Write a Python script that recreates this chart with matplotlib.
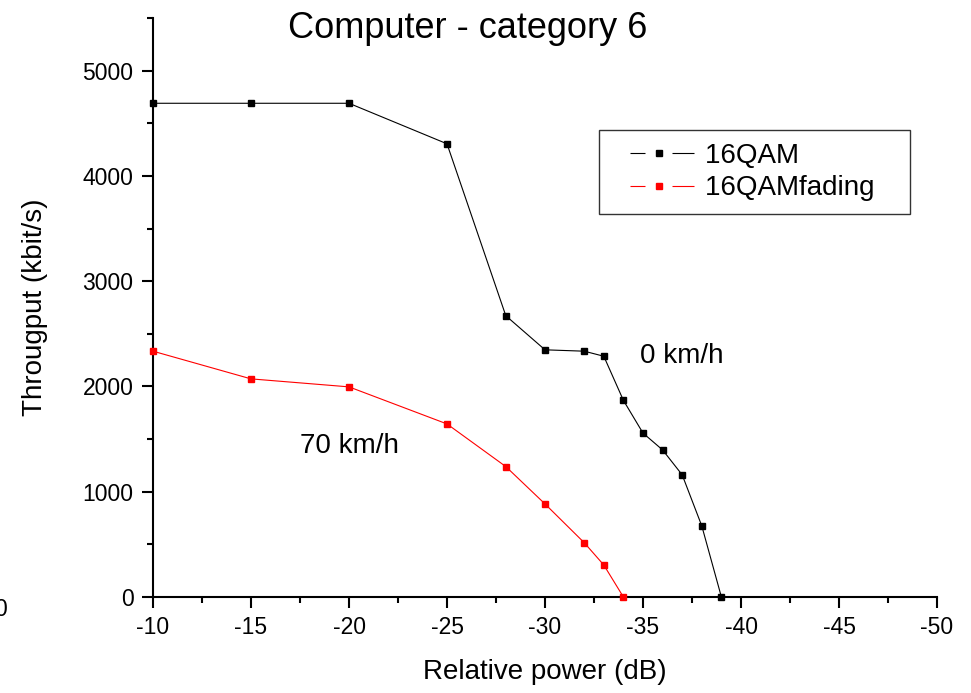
import matplotlib
matplotlib.use("Agg")
import matplotlib.pyplot as plt
from matplotlib.lines import Line2D
from matplotlib.ticker import MultipleLocator

plt.rcParams['font.family'] = ['Liberation Sans', 'DejaVu Sans']
plt.rcParams['axes.unicode_minus'] = False

power = [-10, -15, -20, -25, -28, -30, -32, -33, -34, -35, -36, -37, -38, -39]
qam16 = [4690, 4690, 4690, 4305, 2672, 2348, 2335, 2287, 1868, 1557, 1397, 1160, 675, 0]
power_fading = [-10, -15, -20, -25, -28, -30, -32, -33, -34]
qam16_fading = [2335, 2072, 1996, 1644, 1239, 884, 516, 304, 0]
series_names = ['16QAM', '16QAMfading']

fig = plt.figure(figsize=(9.71, 6.93), dpi=100)
ax = fig.add_axes([153/971, 1-597/693, (937-153)/971, (597-18)/693])

ax.plot(power, qam16, color='black', lw=0.8, marker='s', ms=5, clip_on=False, zorder=3)
ax.plot(power_fading, qam16_fading, color='red', lw=0.8, marker='s', ms=5, clip_on=False, zorder=3)

ax.set_xlim(-10, -50)
ax.set_ylim(0, 5500)
ax.xaxis.set_major_locator(MultipleLocator(5))
ax.xaxis.set_minor_locator(MultipleLocator(2.5))
ax.yaxis.set_major_locator(MultipleLocator(1000))
ax.yaxis.set_minor_locator(MultipleLocator(500))
for s in ['top', 'right']:
    ax.spines[s].set_visible(False)
for s in ['left', 'bottom']:
    ax.spines[s].set_linewidth(1.5)
ax.tick_params(which='major', direction='out', length=8, width=1.5, labelsize=16.5, pad=6)
ax.tick_params(which='minor', direction='out', length=4, width=1.5)

ax.set_xlabel('Relative power (dB)', fontsize=20, labelpad=14)
ax.set_ylabel('Througput (kbit/s)', fontsize=20, labelpad=25)

fig.text(468/971, 1-28/693, 'Computer - category 6', fontsize=26, ha='center', va='center')
ax.text(-37, 2291, '0 km/h', fontsize=20, ha='center', va='center')
ax.text(-20, 1435, '70 km/h', fontsize=20, ha='center', va='center')
fig.text(-0.006, 1-610/693, '0', fontsize=16.5, ha='left', va='center')

ls = (0, (0, 16.2, 13.5, 24.3, 19.8, 300))
h1 = Line2D([], [], color='black', lw=0.8, marker='s', ms=5, linestyle=ls)
h2 = Line2D([], [], color='red', lw=0.8, marker='s', ms=5, linestyle=ls)
leg = ax.legend([h1, h2], [n + '   ' for n in series_names], fontsize=20, loc='upper left',
                bbox_to_anchor=((599-153)/784, (597-130)/579), frameon=True, fancybox=False,
                edgecolor='black', handlelength=3.45, handletextpad=-0.1, borderpad=0.45,
                labelspacing=0.25, borderaxespad=0)
leg.get_frame().set_linewidth(1.0)

fig.savefig('out.png', dpi=100)
